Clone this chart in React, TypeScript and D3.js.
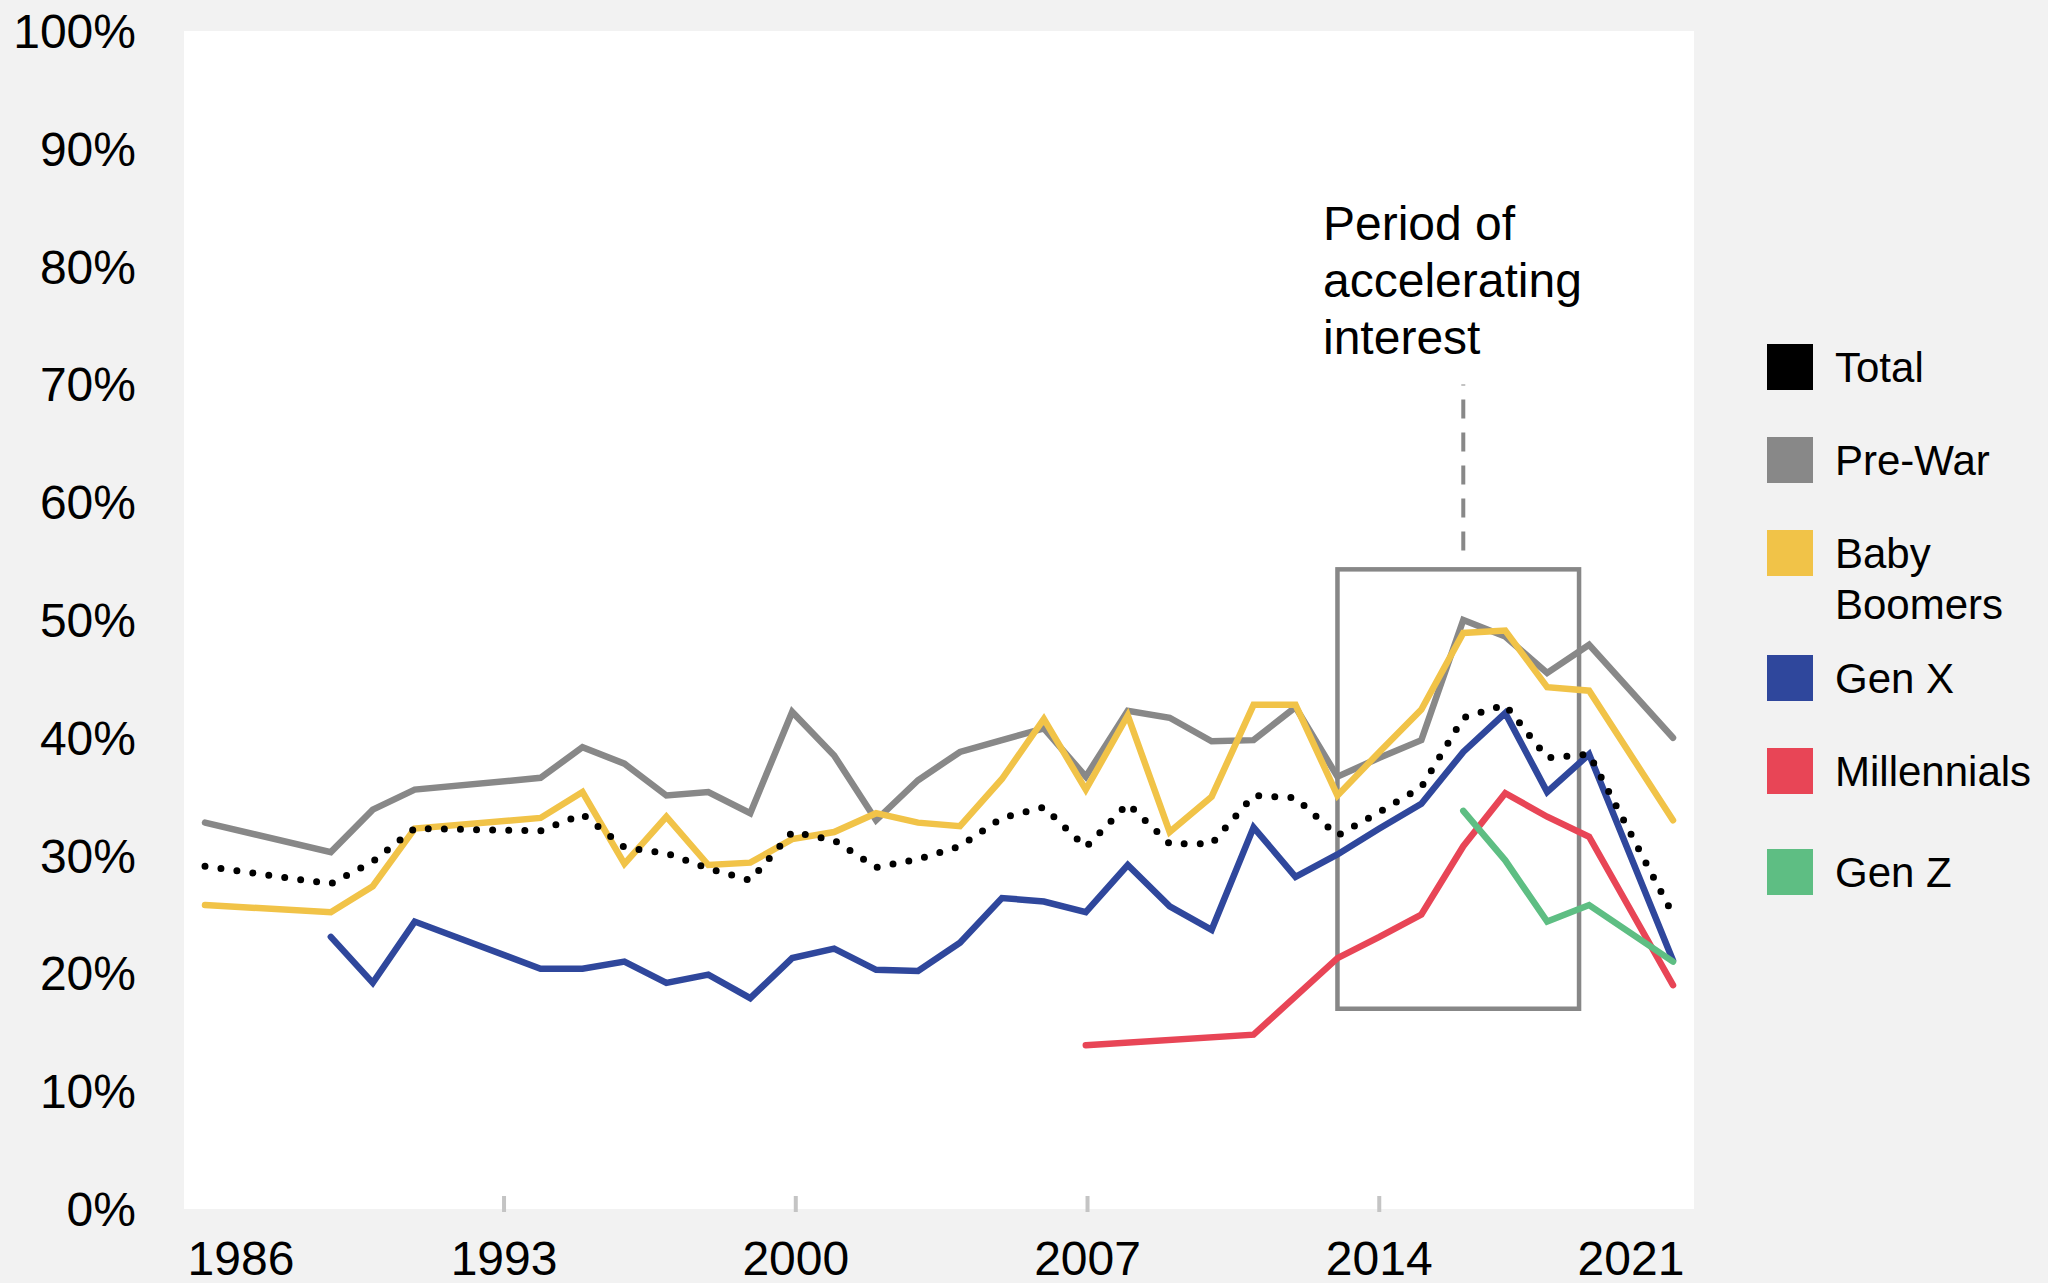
import React from "react";
import * as d3 from "d3";

// ---------- data ----------
const years = [1986, 1989, 1990, 1991, 1994, 1995, 1996, 1997, 1998, 1999, 2000, 2001, 2002, 2003, 2004, 2005, 2006, 2007, 2008, 2009, 2010, 2011, 2012, 2013, 2014, 2015, 2016, 2017, 2018, 2019, 2021];
const totalValues = [29.1, 27.6, 29.5, 32.3, 32.1, 33.5, 30.7, 30.2, 28.9, 27.9, 32.0, 31.3, 29.0, 29.7, 30.8, 33.2, 34.1, 30.7, 34.4, 31.0, 31.0, 35.1, 34.9, 31.7, 33.7, 35.8, 41.7, 42.8, 38.3, 38.6, 25.0];
const preWarValues = [32.8, 30.3, 33.9, 35.6, 36.6, 39.2, 37.8, 35.1, 35.4, 33.6, 42.2, 38.5, 33.0, 36.4, 38.8, 39.8, 40.8, 36.7, 42.3, 41.7, 39.7, 39.8, 42.6, 36.7, 38.3, 39.8, 50.0, 48.6, 45.5, 47.9, 40.0];
const boomerValues = [25.8, 25.2, 27.4, 32.3, 33.2, 35.4, 29.3, 33.3, 29.2, 29.4, 31.4, 32.0, 33.6, 32.8, 32.5, 36.5, 41.6, 35.6, 41.9, 32.0, 35.0, 42.8, 42.8, 35.1, 38.8, 42.4, 48.9, 49.1, 44.3, 44.0, 33.0];
const genXYears = years.slice(1);
const genXValues = [23.1, 19.2, 24.4, 20.4, 20.4, 21.0, 19.2, 19.9, 17.9, 21.3, 22.1, 20.3, 20.2, 22.6, 26.4, 26.1, 25.2, 29.2, 25.7, 23.7, 32.4, 28.2, 30.1, 32.3, 34.4, 38.8, 42.1, 35.4, 38.6, 21.1];
const millennialYears = [2007, 2011, 2013, 2014, 2015, 2016, 2017, 2018, 2019, 2021];
const millennialValues = [13.9, 14.8, 21.3, 23.1, 25.0, 30.8, 35.3, 33.3, 31.6, 19.0];
const genZYears = [2016, 2017, 2018, 2019, 2021];
const genZValues = [33.8, 29.6, 24.4, 25.8, 21.0];

const yTickValues = [0, 10, 20, 30, 40, 50, 60, 70, 80, 90, 100];
const xTickYears = [1986, 1993, 2000, 2007, 2014, 2021];
const xTickMarks = [1993, 2000, 2007, 2014];

const legendLabels = [["Total"], ["Pre-War"], ["Baby", "Boomers"], ["Gen X"], ["Millennials"], ["Gen Z"]];
const legendColors = ["#000000", "#888888", "#F1C348", "#2F479C", "#E84556", "#5EBE83"];

const annotationLines = ["Period of", "accelerating", "interest"];
const boxYears = [2013, 2018.76];
const boxValues = [17.0, 54.3];
const leaderYear = 2016;
const leaderValues = [55.9, 70.0];

// ---------- layout ----------
const W = 2048;
const H = 1283;
const plot = { left: 184, right: 1694, top: 31, bottom: 1209 };
const FONT = "'Liberation Sans', Arial, Helvetica, sans-serif";
const legendTops = [344, 437, 530, 655, 748, 849];

export default function App() {
  const x = d3.scaleLinear().domain([1986, 2021]).range([205, 1673]);
  const xTick = d3.scaleLinear().domain([1986, 2021]).range([212.3, 1671]);
  const y = d3.scaleLinear().domain([0, 100]).range([plot.bottom, plot.top]);

  const mk = (ys: number[], vs: number[]) =>
    d3.line<number>().x((_, i) => x(ys[i])).y((d) => y(d))(vs) || "";

  const series = [
    { d: mk(years, preWarValues), color: legendColors[1] },
    { d: mk(years, boomerValues), color: legendColors[2] },
    { d: mk(genXYears, genXValues), color: legendColors[3] },
    { d: mk(millennialYears, millennialValues), color: legendColors[4] },
    { d: mk(genZYears, genZValues), color: legendColors[5] },
  ];
  const totalPath = mk(years, totalValues);

  const halfLabel = 51;
  const labelX = (yr: number) =>
    Math.min(Math.max(xTick(yr), plot.left + 6 + halfLabel), plot.right - 12 - halfLabel);

  return (
    <svg
      width={W}
      height={H}
      style={{ position: "absolute", left: 0, top: 0, display: "block" }}
      fontFamily={FONT}
    >
      <rect x={0} y={0} width={W} height={H} fill="#f2f2f2" />
      <rect
        x={plot.left}
        y={plot.top}
        width={plot.right - plot.left}
        height={plot.bottom - plot.top}
        fill="#ffffff"
      />

      {/* y axis labels */}
      {yTickValues.map((v) => (
        <text key={v} x={136} y={y(v) + 17} textAnchor="end" fontSize={48} fill="#000">
          {v}%
        </text>
      ))}

      {/* x ticks */}
      {xTickMarks.map((yr) => (
        <line
          key={yr}
          x1={xTick(yr)}
          x2={xTick(yr)}
          y1={1196}
          y2={1212}
          stroke="#c4c4c4"
          strokeWidth={4}
        />
      ))}
      {xTickYears.map((yr) => (
        <text key={yr} x={labelX(yr)} y={1275} textAnchor="middle" fontSize={48} fill="#000">
          {yr}
        </text>
      ))}

      {/* annotation box */}
      <rect
        x={x(boxYears[0])}
        y={y(boxValues[1])}
        width={x(boxYears[1]) - x(boxYears[0])}
        height={y(boxValues[0]) - y(boxValues[1])}
        fill="none"
        stroke="#878787"
        strokeWidth={4.5}
      />
      <line
        x1={x(leaderYear)}
        x2={x(leaderYear)}
        y1={y(leaderValues[0])}
        y2={y(leaderValues[1])}
        stroke="#888888"
        strokeWidth={4}
        strokeDasharray="19 14"
      />
      {annotationLines.map((t, i) => (
        <text key={t} x={1323} y={240 + i * 57} fontSize={48} fill="#000">
          {t}
        </text>
      ))}

      {/* series */}
      {series.map((s, i) => (
        <path
          key={i}
          d={s.d}
          fill="none"
          stroke={s.color}
          strokeWidth={6.5}
          strokeLinejoin="miter"
          strokeLinecap="round"
        />
      ))}
      <path
        d={totalPath}
        fill="none"
        stroke="#000"
        strokeWidth={7}
        strokeLinecap="round"
        strokeDasharray="0 16.1"
      />

      {/* legend */}
      {legendLabels.map((lines, i) => (
        <g key={i}>
          <rect x={1767} y={legendTops[i]} width={46} height={46} fill={legendColors[i]} />
          {lines.map((t, j) => (
            <text key={t} x={1835} y={legendTops[i] + 38 + j * 51} fontSize={42} fill="#000">
              {t}
            </text>
          ))}
        </g>
      ))}
    </svg>
  );
}
